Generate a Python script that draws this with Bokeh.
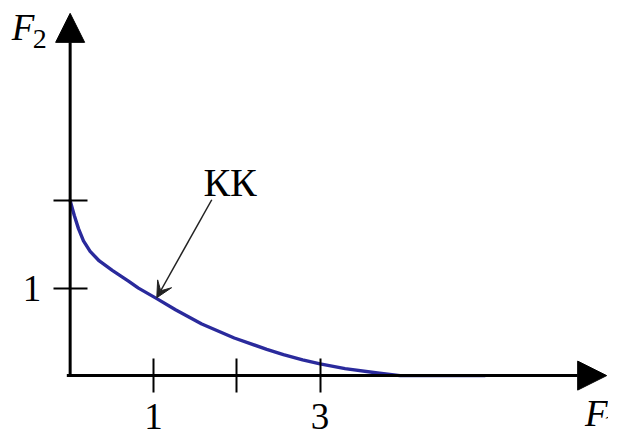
from bokeh.plotting import figure
from bokeh.models import (Arrow, NormalHead, VeeHead, Label, LinearAxis,
                          FixedTicker, Range1d, ColumnDataSource)
from bokeh.embed import file_html
from bokeh.resources import INLINE

# --- data ---
f1_values = [0.0, 0.05, 0.10, 0.16, 0.24, 0.35, 0.51, 0.70, 0.82, 1.04,
             1.27, 1.58, 1.97, 2.36, 2.56, 2.79, 3.00, 3.30, 3.69, 3.96, 4.98]
f2_values = [2.0, 1.83, 1.68, 1.54, 1.42, 1.31, 1.20, 1.08, 1.00, 0.88,
             0.75, 0.59, 0.43, 0.30, 0.24, 0.18, 0.135, 0.08, 0.03, 0.0, 0.0]
x_ticks = [1, 2, 3]
x_tick_labels = {1: "1", 2: "", 3: "3"}
y_ticks = [1, 2]
y_tick_labels = {1: "1", 2: ""}
curve_label = "КК"
curve_label_pos = (1.92, 2.21)
pointer_start = (1.70, 2.01)
pointer_end = (1.04, 0.89)
x_axis_end = 6.44
y_axis_end = 4.14

SERIF = "Liberation Serif"

p = figure(width=608, height=432,
           x_range=Range1d(-0.836, 6.462), y_range=Range1d(-0.650, 4.287),
           output_backend="svg", toolbar_location=None,
           x_axis_type=None, y_axis_type=None, min_border=0)
p.outline_line_color = None
p.background_fill_color = "white"

# curve
src = ColumnDataSource(dict(x=f1_values, y=f2_values))
p.line("x", "y", source=src, line_color="#2a2a9c", line_width=3.4,
       line_join="round", line_cap="round")

# axes lines with arrow heads
p.add_layout(Arrow(x_start=-0.04, y_start=0, x_end=x_axis_end, y_end=0,
                   line_width=3, line_color="black",
                   end=NormalHead(size=29, fill_color="black", line_color="black", line_width=1)))
p.add_layout(Arrow(x_start=0, y_start=-0.01, x_end=0, y_end=y_axis_end,
                   line_width=3, line_color="black",
                   end=NormalHead(size=29, fill_color="black", line_color="black", line_width=1)))

# ticks and tick labels
xaxis = LinearAxis(fixed_location=0, ticker=FixedTicker(ticks=x_ticks),
                   major_label_overrides=x_tick_labels,
                   axis_line_color=None, minor_tick_line_color=None,
                   major_tick_in=17, major_tick_out=17,
                   major_tick_line_width=2, major_tick_line_color="black",
                   major_label_text_font=SERIF,
                   major_label_text_font_size="37px",
                   major_label_text_color="black",
                   major_label_standoff=11)
p.add_layout(xaxis, "below")

yaxis = LinearAxis(fixed_location=0, ticker=FixedTicker(ticks=y_ticks),
                   major_label_overrides=y_tick_labels,
                   axis_line_color=None, minor_tick_line_color=None,
                   major_tick_in=17, major_tick_out=17,
                   major_tick_line_width=2, major_tick_line_color="black",
                   major_label_text_font=SERIF,
                   major_label_text_font_size="37px",
                   major_label_text_color="black",
                   major_label_orientation="horizontal",
                   major_label_standoff=12)
p.add_layout(yaxis, "left")

# pointer arrow to the curve
p.add_layout(Arrow(x_start=pointer_start[0], y_start=pointer_start[1],
                   x_end=pointer_end[0], y_end=pointer_end[1],
                   line_width=1.5, line_color="#222222",
                   end=VeeHead(size=16, fill_color="#222222", line_color="#222222", line_width=1)))

p.add_layout(Label(x=curve_label_pos[0], y=curve_label_pos[1], text=curve_label,
                   text_align="center", text_baseline="middle",
                   text_font=SERIF, text_font_size="40px", text_color="black"))

# axis titles
p.add_layout(Label(x=-0.70, y=3.98, text="F", text_font=SERIF,
                   text_font_style="italic", text_font_size="37px",
                   text_align="left", text_baseline="middle", text_color="black"))
p.add_layout(Label(x=-0.45, y=3.85, text="2", text_font=SERIF,
                   text_font_size="28px",
                   text_align="left", text_baseline="middle", text_color="black"))
p.add_layout(Label(x=6.18, y=-0.43, text="F", text_font=SERIF,
                   text_font_style="italic", text_font_size="37px",
                   text_align="left", text_baseline="middle", text_color="black"))
p.add_layout(Label(x=6.40, y=-0.55, text="1", text_font=SERIF,
                   text_font_size="28px",
                   text_align="left", text_baseline="middle", text_color="black"))

open("out.html", "w").write(file_html(p, INLINE))
